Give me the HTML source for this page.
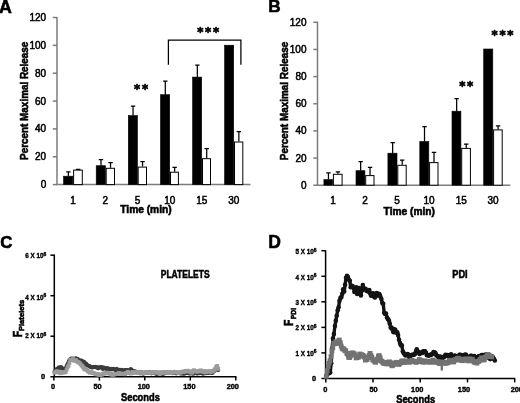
<!DOCTYPE html>
<html><head><meta charset="utf-8"><title>Figure</title>
<style>
html,body{margin:0;padding:0;background:#fff;}
body{width:520px;height:403px;overflow:hidden;}
svg{display:block;will-change:transform;filter:blur(0.45px);font-family:"Liberation Sans",sans-serif;}
.b{font-weight:bold;stroke:#000;stroke-width:0.55;}
.ax{stroke:#7c7c7c;stroke-width:1.5;fill:none;}
.axk{stroke:#000;stroke-width:1.5;fill:none;}
.bk{fill:#000;stroke:#000;stroke-width:0.6;}
.wh{fill:#fff;stroke:#000;stroke-width:1;}
.eb{stroke:#000;stroke-width:1.25;fill:none;}
.tl{font-size:10px;stroke:#000;stroke-width:0.5;}
.ts{font-size:7.4px;font-weight:bold;stroke:#000;stroke-width:0.4;}
</style></head><body>
<svg width="520" height="403" viewBox="0 0 520 403">
<rect width="520" height="403" fill="#fff"/>
<defs>
<marker id="mD" markerWidth="6" markerHeight="6" refX="3" refY="3" markerUnits="userSpaceOnUse"><circle cx="3" cy="3" r="2.3" fill="#141414"/></marker>
<marker id="mG" markerWidth="6" markerHeight="6" refX="3" refY="3" markerUnits="userSpaceOnUse"><rect x="0.6" y="0.6" width="4.8" height="4.8" fill="#727272"/></marker>
<marker id="mCd" markerWidth="6" markerHeight="6" refX="3" refY="3" markerUnits="userSpaceOnUse"><circle cx="3" cy="3" r="2.1" fill="#3c3c3c"/></marker>
<marker id="mCl" markerWidth="6" markerHeight="6" refX="3" refY="3" markerUnits="userSpaceOnUse"><rect x="1.1" y="1.1" width="3.8" height="3.8" fill="#9b9b9b"/></marker>
</defs>

<text x="-1.0" y="12.5" class="b" text-anchor="start" font-size="17.8">A</text>
<text x="268.3" y="12.3" class="b" text-anchor="start" font-size="17.2">B</text>
<text x="0.2" y="247.5" class="b" text-anchor="start" font-size="16.8">C</text>
<text x="268.3" y="247.5" class="b" text-anchor="start" font-size="17.5">D</text>
<path class="ax" d="M57 16.99999999999997V184.6H250.5"/>
<path class="ax" d="M52.8 184.60H57"/>
<text x="46.2" y="188.10" class="tl" text-anchor="end" >0</text>
<path class="ax" d="M52.8 156.75H57"/>
<text x="46.2" y="160.25" class="tl" text-anchor="end" >20</text>
<path class="ax" d="M52.8 128.90H57"/>
<text x="46.2" y="132.40" class="tl" text-anchor="end" >40</text>
<path class="ax" d="M52.8 101.05H57"/>
<text x="46.2" y="104.55" class="tl" text-anchor="end" >60</text>
<path class="ax" d="M52.8 73.20H57"/>
<text x="46.2" y="76.70" class="tl" text-anchor="end" >80</text>
<path class="ax" d="M52.8 45.35H57"/>
<text x="46.2" y="48.85" class="tl" text-anchor="end" >100</text>
<path class="ax" d="M52.8 17.50H57"/>
<text x="46.2" y="21.00" class="tl" text-anchor="end" >120</text>
<rect class="bk" x="63.60" y="176.20" width="9.20" height="8.40"/>
<rect class="wh" x="73.60" y="170.10" width="8.70" height="14.50"/>
<path class="eb" d="M68.40 176.20V171.90M66.20 171.90H70.60"/>
<path class="eb" d="M78.15 169.60V169.30M75.95 169.30H80.35"/>
<rect class="bk" x="96.20" y="165.70" width="9.20" height="18.90"/>
<rect class="wh" x="106.20" y="168.30" width="8.30" height="16.30"/>
<path class="eb" d="M101.00 165.70V159.60M98.80 159.60H103.20"/>
<path class="eb" d="M110.55 167.80V162.60M108.35 162.60H112.75"/>
<rect class="bk" x="128.30" y="115.60" width="9.10" height="69.00"/>
<rect class="wh" x="138.20" y="167.10" width="8.30" height="17.50"/>
<path class="eb" d="M133.05 115.60V106.00M130.85 106.00H135.25"/>
<path class="eb" d="M142.55 166.60V161.70M140.35 161.70H144.75"/>
<rect class="bk" x="160.50" y="94.70" width="9.20" height="89.90"/>
<rect class="wh" x="170.50" y="172.20" width="7.90" height="12.40"/>
<path class="eb" d="M165.30 94.70V81.20M163.10 81.20H167.50"/>
<path class="eb" d="M174.65 171.70V167.40M172.45 167.40H176.85"/>
<rect class="bk" x="192.60" y="77.10" width="9.10" height="107.50"/>
<rect class="wh" x="202.50" y="158.70" width="8.00" height="25.90"/>
<path class="eb" d="M197.35 77.10V65.10M195.15 65.10H199.55"/>
<path class="eb" d="M206.70 158.20V148.50M204.50 148.50H208.90"/>
<rect class="bk" x="224.60" y="45.20" width="9.10" height="139.40"/>
<rect class="wh" x="234.50" y="142.00" width="8.30" height="42.60"/>
<path class="eb" d="M238.85 141.50V131.60M236.65 131.60H241.05"/>
<text x="73" y="204.0" class="tl" text-anchor="middle" >1</text>
<text x="105.3" y="204.0" class="tl" text-anchor="middle" >2</text>
<text x="137.6" y="204.0" class="tl" text-anchor="middle" >5</text>
<text x="169.8" y="204.0" class="tl" text-anchor="middle" >10</text>
<text x="201.8" y="204.0" class="tl" text-anchor="middle" >15</text>
<text x="233.8" y="204.0" class="tl" text-anchor="middle" >30</text>
<text x="120.3" y="213.2" class="b" text-anchor="start" font-size="10" textLength="51.3" lengthAdjust="spacingAndGlyphs">Time (min)</text>
<text class="b" font-size="10" text-anchor="middle" transform="translate(27.6 100.8) rotate(-90)" textLength="118.3" lengthAdjust="spacingAndGlyphs">Percent Maximal Release</text>
<path class="eb" d="M168.4 64.7V40H240.9V64.7"/>
<text x="137.05" y="93.40" text-anchor="middle" font-family="DejaVu Sans,sans-serif" font-weight="bold" font-size="11.8" stroke="#000" stroke-width="0.7" stroke-linejoin="round">*</text>
<text x="145.1" y="93.40" text-anchor="middle" font-family="DejaVu Sans,sans-serif" font-weight="bold" font-size="11.8" stroke="#000" stroke-width="0.7" stroke-linejoin="round">*</text>
<text x="200.3" y="35.50" text-anchor="middle" font-family="DejaVu Sans,sans-serif" font-weight="bold" font-size="11.8" stroke="#000" stroke-width="0.7" stroke-linejoin="round">*</text>
<text x="208.2" y="35.50" text-anchor="middle" font-family="DejaVu Sans,sans-serif" font-weight="bold" font-size="11.8" stroke="#000" stroke-width="0.7" stroke-linejoin="round">*</text>
<text x="216.0" y="35.50" text-anchor="middle" font-family="DejaVu Sans,sans-serif" font-weight="bold" font-size="11.8" stroke="#000" stroke-width="0.7" stroke-linejoin="round">*</text>
<path class="ax" d="M317.5 21.80000000000001V185.2H510.3"/>
<path class="ax" d="M313.3 185.20H317.5"/>
<text x="306.5" y="188.70" class="tl" text-anchor="end" >0</text>
<path class="ax" d="M313.3 158.05H317.5"/>
<text x="306.5" y="161.55" class="tl" text-anchor="end" >20</text>
<path class="ax" d="M313.3 130.90H317.5"/>
<text x="306.5" y="134.40" class="tl" text-anchor="end" >40</text>
<path class="ax" d="M313.3 103.75H317.5"/>
<text x="306.5" y="107.25" class="tl" text-anchor="end" >60</text>
<path class="ax" d="M313.3 76.60H317.5"/>
<text x="306.5" y="80.10" class="tl" text-anchor="end" >80</text>
<path class="ax" d="M313.3 49.45H317.5"/>
<text x="306.5" y="52.95" class="tl" text-anchor="end" >100</text>
<path class="ax" d="M313.3 22.30H317.5"/>
<text x="306.5" y="25.80" class="tl" text-anchor="end" >120</text>
<rect class="bk" x="323.90" y="179.60" width="8.70" height="5.60"/>
<rect class="wh" x="333.40" y="174.30" width="8.70" height="10.90"/>
<path class="eb" d="M328.45 179.60V172.80M326.25 172.80H330.65"/>
<path class="eb" d="M337.95 173.80V171.80M335.75 171.80H340.15"/>
<rect class="bk" x="356.00" y="170.70" width="8.90" height="14.50"/>
<rect class="wh" x="365.70" y="175.60" width="8.30" height="9.60"/>
<path class="eb" d="M360.65 170.70V161.60M358.45 161.60H362.85"/>
<path class="eb" d="M370.05 175.10V167.40M367.85 167.40H372.25"/>
<rect class="bk" x="387.90" y="153.20" width="9.10" height="32.00"/>
<rect class="wh" x="397.80" y="165.30" width="8.40" height="19.90"/>
<path class="eb" d="M392.65 153.20V142.50M390.45 142.50H394.85"/>
<path class="eb" d="M402.20 164.80V160.00M400.00 160.00H404.40"/>
<rect class="bk" x="419.80" y="141.50" width="9.00" height="43.70"/>
<rect class="wh" x="429.60" y="162.60" width="8.40" height="22.60"/>
<path class="eb" d="M424.50 141.50V126.70M422.30 126.70H426.70"/>
<path class="eb" d="M434.00 162.10V152.40M431.80 152.40H436.20"/>
<rect class="bk" x="452.00" y="111.20" width="8.90" height="74.00"/>
<rect class="wh" x="461.70" y="148.40" width="8.70" height="36.80"/>
<path class="eb" d="M456.65 111.20V98.50M454.45 98.50H458.85"/>
<path class="eb" d="M466.25 147.90V144.20M464.05 144.20H468.45"/>
<rect class="bk" x="483.70" y="49.00" width="9.10" height="136.20"/>
<rect class="wh" x="493.60" y="129.90" width="8.60" height="55.30"/>
<path class="eb" d="M498.10 129.40V125.80M495.90 125.80H500.30"/>
<text x="333" y="204.3" class="tl" text-anchor="middle" >1</text>
<text x="365" y="204.3" class="tl" text-anchor="middle" >2</text>
<text x="397" y="204.3" class="tl" text-anchor="middle" >5</text>
<text x="429" y="204.3" class="tl" text-anchor="middle" >10</text>
<text x="461.2" y="204.3" class="tl" text-anchor="middle" >15</text>
<text x="493" y="204.3" class="tl" text-anchor="middle" >30</text>
<text x="383.6" y="215.1" class="b" text-anchor="start" font-size="10" textLength="51.3" lengthAdjust="spacingAndGlyphs">Time (min)</text>
<text class="b" font-size="10" text-anchor="middle" transform="translate(288.3 101.0) rotate(-90)" textLength="118.3" lengthAdjust="spacingAndGlyphs">Percent Maximal Release</text>
<text x="462.3" y="90.00" text-anchor="middle" font-family="DejaVu Sans,sans-serif" font-weight="bold" font-size="11.8" stroke="#000" stroke-width="0.7" stroke-linejoin="round">*</text>
<text x="470.2" y="90.00" text-anchor="middle" font-family="DejaVu Sans,sans-serif" font-weight="bold" font-size="11.8" stroke="#000" stroke-width="0.7" stroke-linejoin="round">*</text>
<text x="494.6" y="39.10" text-anchor="middle" font-family="DejaVu Sans,sans-serif" font-weight="bold" font-size="11.8" stroke="#000" stroke-width="0.7" stroke-linejoin="round">*</text>
<text x="502.5" y="39.10" text-anchor="middle" font-family="DejaVu Sans,sans-serif" font-weight="bold" font-size="11.8" stroke="#000" stroke-width="0.7" stroke-linejoin="round">*</text>
<text x="510.4" y="39.10" text-anchor="middle" font-family="DejaVu Sans,sans-serif" font-weight="bold" font-size="11.8" stroke="#000" stroke-width="0.7" stroke-linejoin="round">*</text>
<path class="axk" d="M54.3 254.4V376.8H236.4"/>
<path class="axk" d="M50.4 376.8H54.3"/>
<text x="45.2" y="379.4" class="ts" text-anchor="end" >0</text>
<path class="axk" d="M50.4 336.2H54.3"/>
<text x="43.50" y="338.1" class="ts" text-anchor="end" textLength="18.2" lengthAdjust="spacingAndGlyphs">2 X 10</text>
<text x="43.40" y="335.50" class="ts" style="font-size:4.9px">6</text>
<path class="axk" d="M50.4 295.7H54.3"/>
<text x="43.50" y="299.7" class="ts" text-anchor="end" textLength="18.2" lengthAdjust="spacingAndGlyphs">4 X 10</text>
<text x="43.40" y="297.10" class="ts" style="font-size:4.9px">6</text>
<path class="axk" d="M50.4 255.2H54.3"/>
<text x="43.50" y="258.1" class="ts" text-anchor="end" textLength="18.2" lengthAdjust="spacingAndGlyphs">6 X 10</text>
<text x="43.40" y="255.50" class="ts" style="font-size:4.9px">6</text>
<path class="axk" d="M53.9 376.8V380.6"/>
<text x="53" y="388.7" class="ts" text-anchor="middle" >0</text>
<path class="axk" d="M99.4 376.8V380.6"/>
<text x="97.5" y="388.7" class="ts" text-anchor="middle" >50</text>
<path class="axk" d="M144.8 376.8V380.6"/>
<text x="143.8" y="388.7" class="ts" text-anchor="middle" >100</text>
<path class="axk" d="M190.3 376.8V380.6"/>
<text x="189.4" y="388.7" class="ts" text-anchor="middle" >150</text>
<path class="axk" d="M235.8 376.8V380.6"/>
<text x="232.8" y="388.7" class="ts" text-anchor="middle" >200</text>
<text x="121.0" y="401.1" class="b" text-anchor="start" font-size="11.2" textLength="38.9" lengthAdjust="spacingAndGlyphs">Seconds</text>
<text x="160.8" y="277.9" class="b" text-anchor="start" font-size="10.6" textLength="48.8" lengthAdjust="spacingAndGlyphs">PLATELETS</text>
<text class="b" font-size="12.8" transform="translate(21.5 337.3) rotate(-90)" textLength="6.4" lengthAdjust="spacingAndGlyphs">F</text>
<text class="b" font-size="7.8" transform="translate(24.4 331.1) rotate(-90)" textLength="31.4" lengthAdjust="spacingAndGlyphs">Platelets</text>
<path d="M54.5 371.9L55.4 371.3L56.4 369.3L57.3 369.0L58.2 368.1L59.1 367.4L60.1 367.9L61.0 367.2L61.9 367.9L62.9 369.1L63.8 370.4L64.7 369.0L65.7 368.3L66.6 366.2L67.5 364.3L68.5 362.3L69.4 360.2L70.3 359.3L71.2 358.6L72.2 358.9L73.1 358.7L74.0 358.8L75.0 359.1L75.9 358.4L76.8 358.8L77.8 359.2L78.7 360.3L79.6 360.3L80.5 360.9L81.5 360.6L82.4 361.6L83.3 361.5L84.3 362.2L85.2 364.3L86.1 363.7L87.1 365.2L88.0 365.7L88.9 365.8L89.8 366.4L90.8 366.9L91.7 367.5L92.6 367.3L93.6 367.1L94.5 367.1L95.4 366.9L96.4 367.4L97.3 367.3L98.2 368.3L99.1 367.3L100.1 367.4L101.0 367.5L101.9 367.0L102.9 368.9L103.8 367.6L104.7 368.1L105.7 368.3L106.6 369.5L107.5 368.2L108.4 369.3L109.4 368.8L110.3 369.0L111.2 368.8L112.2 369.5L113.1 368.9L114.0 369.2L115.0 369.6L115.9 370.6L116.8 368.9L117.7 370.2L118.7 370.5L119.6 369.9L120.5 370.1L121.5 369.9L122.4 370.8L123.3 370.6L124.3 370.3L125.2 370.2L126.1 370.2L127.0 370.3L128.0 370.1L128.9 371.5L129.8 370.3L130.8 369.0L131.7 370.2L132.6 370.8L133.6 371.4L134.5 371.4L135.4 371.6L136.3 371.9L137.3 372.5L138.2 372.1L139.1 372.1L140.1 373.3L141.0 373.1L141.9 372.4L142.9 373.6L143.8 373.5L144.7 372.8L145.6 372.3L146.6 372.8L147.5 372.5L148.4 372.3L149.4 372.1L150.3 372.4L151.2 373.3L152.2 373.0L153.1 372.4L154.0 373.1L154.9 373.2L155.9 373.5L156.8 373.9L157.7 373.4L158.7 373.2L159.6 373.2L160.5 372.6L161.5 373.3L162.4 373.9L163.3 373.6L164.2 373.3L165.2 373.1L166.1 372.8L167.0 372.7L168.0 372.8L168.9 372.6L169.8 372.8L170.8 372.3L171.7 373.0L172.6 373.2L173.5 372.7L174.5 371.9L175.4 372.7L176.3 373.5L177.3 373.0L178.2 373.0L179.1 372.9L180.1 373.4L181.0 372.9L181.9 373.6L182.8 373.3L183.8 373.7L184.7 373.5L185.6 373.2L186.6 372.5L187.5 372.6L188.4 372.8L189.4 373.4L190.3 373.4L191.2 373.0L192.1 373.3L193.1 373.7L194.0 373.3L194.9 373.0L195.9 372.9L196.8 373.4L197.7 373.5L198.7 372.9L199.6 373.2L200.5 372.9L201.4 372.7L202.4 373.5L203.3 373.7L204.2 373.0L205.2 373.1L206.1 373.2L207.0 372.7L208.0 372.7L208.9 373.0L209.8 371.9L210.7 372.4L211.7 372.8L212.6 372.8L213.5 371.4L214.5 370.9L215.4 369.7L216.3 368.5L217.3 368.5L218.2 370.1" fill="none" stroke="#3c3c3c" stroke-width="2.6" stroke-linejoin="round" stroke-linecap="round" marker-start="url(#mCd)" marker-mid="url(#mCd)" marker-end="url(#mCd)"/>
<path d="M54.5 372.7L55.4 372.4L56.4 371.5L57.3 371.4L58.2 372.1L59.1 372.4L60.1 373.3L61.0 372.7L61.9 372.7L62.9 372.4L63.8 372.2L64.7 372.4L65.7 372.0L66.6 369.7L67.5 367.3L68.5 365.8L69.4 363.1L70.3 359.9L71.2 360.0L72.2 359.5L73.1 359.1L74.0 360.6L75.0 360.7L75.9 360.0L76.8 361.3L77.8 362.0L78.7 362.4L79.6 363.1L80.5 364.1L81.5 365.3L82.4 366.2L83.3 367.4L84.3 369.3L85.2 369.2L86.1 369.4L87.1 370.2L88.0 371.4L88.9 371.6L89.8 372.7L90.8 372.2L91.7 372.2L92.6 372.9L93.6 373.0L94.5 373.4L95.4 374.0L96.4 374.4L97.3 374.3L98.2 374.2L99.1 374.9L100.1 374.8L101.0 374.5L101.9 374.7L102.9 373.7L103.8 373.5L104.7 373.5L105.7 373.0L106.6 372.6L107.5 373.2L108.4 373.3L109.4 373.4L110.3 373.5L111.2 374.7L112.2 374.3L113.1 374.7L114.0 374.5L115.0 374.1L115.9 374.2L116.8 374.1L117.7 373.9L118.7 373.1L119.6 373.3L120.5 373.7L121.5 373.7L122.4 373.9L123.3 374.1L124.3 373.7L125.2 374.2L126.1 372.9L127.0 372.8L128.0 371.8L128.9 372.8L129.8 372.9L130.8 373.6L131.7 373.0L132.6 372.0L133.6 373.0L134.5 372.3L135.4 372.0L136.3 372.3L137.3 372.8L138.2 372.5L139.1 372.6L140.1 371.8L141.0 373.0L141.9 372.7L142.9 372.6L143.8 372.8L144.7 372.7L145.6 372.6L146.6 372.1L147.5 372.2L148.4 372.5L149.4 372.8L150.3 372.5L151.2 372.4L152.2 372.5L153.1 372.6L154.0 372.5L154.9 372.2L155.9 372.0L156.8 372.6L157.7 372.5L158.7 372.4L159.6 373.8L160.5 373.3L161.5 373.1L162.4 372.6L163.3 371.9L164.2 372.5L165.2 372.3L166.1 372.2L167.0 372.6L168.0 372.8L168.9 372.5L169.8 372.3L170.8 373.1L171.7 372.8L172.6 371.9L173.5 372.3L174.5 372.2L175.4 372.1L176.3 372.4L177.3 372.3L178.2 373.0L179.1 372.5L180.1 372.3L181.0 372.5L181.9 371.7L182.8 372.0L183.8 371.5L184.7 371.8L185.6 370.9L186.6 371.2L187.5 370.7L188.4 371.1L189.4 371.6L190.3 372.0L191.2 372.5L192.1 372.5L193.1 370.9L194.0 370.2L194.9 371.3L195.9 371.5L196.8 371.0L197.7 371.7L198.7 371.2L199.6 370.9L200.5 370.5L201.4 370.6L202.4 371.7L203.3 371.4L204.2 371.2L205.2 372.4L206.1 371.6L207.0 371.5L208.0 371.5L208.9 371.6L209.8 371.3L210.7 371.9L211.7 371.3L212.6 371.4L213.5 370.9L214.5 369.7L215.4 368.6L216.3 366.6L217.3 366.1L218.2 368.9" fill="none" stroke="#9b9b9b" stroke-width="2.6" stroke-linejoin="round" stroke-linecap="round" marker-start="url(#mCl)" marker-mid="url(#mCl)" marker-end="url(#mCl)"/>
<path class="axk" d="M325.6 250.2V378.5H515.2"/>
<path class="axk" d="M321.4 378.5H325.6"/>
<text x="316" y="380.9" class="ts" text-anchor="end" >0</text>
<path class="axk" d="M321.4 352.9H325.6"/>
<text x="313.80" y="355.5" class="ts" text-anchor="end" textLength="18.2" lengthAdjust="spacingAndGlyphs">1 X 10</text>
<text x="313.70" y="352.90" class="ts" style="font-size:4.9px">6</text>
<path class="axk" d="M321.4 327.4H325.6"/>
<text x="313.80" y="330.3" class="ts" text-anchor="end" textLength="18.2" lengthAdjust="spacingAndGlyphs">2 X 10</text>
<text x="313.70" y="327.70" class="ts" style="font-size:4.9px">6</text>
<path class="axk" d="M321.4 301.8H325.6"/>
<text x="313.80" y="305.2" class="ts" text-anchor="end" textLength="18.2" lengthAdjust="spacingAndGlyphs">3 X 10</text>
<text x="313.70" y="302.60" class="ts" style="font-size:4.9px">6</text>
<path class="axk" d="M321.4 276.3H325.6"/>
<text x="313.80" y="280.0" class="ts" text-anchor="end" textLength="18.2" lengthAdjust="spacingAndGlyphs">4 X 10</text>
<text x="313.70" y="277.40" class="ts" style="font-size:4.9px">6</text>
<path class="axk" d="M321.4 250.7H325.6"/>
<text x="313.80" y="254.2" class="ts" text-anchor="end" textLength="18.2" lengthAdjust="spacingAndGlyphs">5 X 10</text>
<text x="313.70" y="251.60" class="ts" style="font-size:4.9px">6</text>
<path class="axk" d="M325.8 378.5V382.4"/>
<text x="325.3" y="391.7" class="ts" text-anchor="middle" >0</text>
<path class="axk" d="M373.0 378.5V382.4"/>
<text x="373.6" y="391.7" class="ts" text-anchor="middle" >50</text>
<path class="axk" d="M420.2 378.5V382.4"/>
<text x="417.2" y="391.7" class="ts" text-anchor="middle" >100</text>
<path class="axk" d="M467.5 378.5V382.4"/>
<text x="464.0" y="391.7" class="ts" text-anchor="middle" >150</text>
<path class="axk" d="M514.7 378.5V382.4"/>
<text x="516.8" y="391.7" class="ts" text-anchor="middle" >200</text>
<text x="396.2" y="403.2" class="b" text-anchor="start" font-size="11.2" textLength="38.9" lengthAdjust="spacingAndGlyphs">Seconds</text>
<text x="452.3" y="278.0" class="b" text-anchor="start" font-size="10.6" textLength="15.4" lengthAdjust="spacingAndGlyphs">PDI</text>
<text class="b" font-size="12.8" transform="translate(292.8 326.1) rotate(-90)" textLength="6.4" lengthAdjust="spacingAndGlyphs">F</text>
<text class="b" font-size="7.8" transform="translate(295.9 319.3) rotate(-90)" textLength="11.4" lengthAdjust="spacingAndGlyphs">PDI</text>
<path d="M326.5 375.4L327.4 373.9L328.4 373.6L329.3 372.7L330.2 372.4L331.2 363.2L332.1 348.5L333.0 338.6L333.9 334.1L334.9 326.0L335.8 320.7L336.7 315.7L337.7 310.3L338.6 307.2L339.5 300.7L340.5 297.9L341.4 297.1L342.3 293.7L343.2 289.3L344.2 291.5L345.1 284.8L346.0 277.8L347.0 275.9L347.9 277.1L348.8 279.5L349.8 280.7L350.7 287.2L351.6 285.9L352.5 286.1L353.5 287.8L354.4 292.0L355.3 289.2L356.3 287.4L357.2 294.0L358.1 288.0L359.1 288.0L360.0 290.5L360.9 295.4L361.8 290.5L362.8 285.0L363.7 289.5L364.6 288.8L365.6 288.8L366.5 290.7L367.4 291.1L368.4 291.4L369.3 290.0L370.2 293.5L371.1 295.7L372.1 293.7L373.0 293.2L373.9 296.4L374.9 297.5L375.8 293.8L376.7 293.0L377.7 295.5L378.6 293.9L379.5 294.3L380.4 296.7L381.4 299.1L382.3 303.1L383.2 303.7L384.2 312.8L385.1 314.0L386.0 313.5L387.0 317.5L387.9 319.1L388.8 320.3L389.7 323.4L390.7 327.7L391.6 327.5L392.5 329.7L393.5 332.2L394.4 329.4L395.3 329.9L396.3 332.8L397.2 332.2L398.1 335.1L399.0 339.8L400.0 343.0L400.9 345.2L401.8 345.2L402.8 351.5L403.7 353.1L404.6 354.4L405.6 355.5L406.5 354.2L407.4 354.0L408.3 354.5L409.3 357.2L410.2 355.8L411.1 355.5L412.1 354.8L413.0 354.9L413.9 354.7L414.9 354.1L415.8 352.1L416.7 349.2L417.6 351.3L418.6 352.4L419.5 353.9L420.4 353.2L421.4 352.4L422.3 353.0L423.2 351.4L424.2 351.3L425.1 351.4L426.0 352.8L426.9 355.3L427.9 355.2L428.8 355.6L429.7 355.0L430.7 354.9L431.6 354.2L432.5 354.1L433.5 352.1L434.4 352.5L435.3 352.7L436.2 354.9L437.2 355.9L438.1 356.8L439.0 357.8L440.0 356.5L440.9 357.1L441.8 358.3L442.8 357.0L443.7 357.4L444.6 356.5L445.5 354.7L446.5 355.6L447.4 355.1L448.3 355.7L449.3 355.5L450.2 356.2L451.1 354.2L452.1 357.3L453.0 358.0L453.9 356.7L454.8 355.6L455.8 356.0L456.7 356.8L457.6 357.0L458.6 357.1L459.5 354.9L460.4 354.7L461.4 356.9L462.3 356.9L463.2 355.3L464.1 355.2L465.1 354.6L466.0 354.8L466.9 357.0L467.9 356.7L468.8 357.8L469.7 357.5L470.7 355.7L471.6 355.8L472.5 358.6L473.4 357.0L474.4 356.1L475.3 357.8L476.2 357.5L477.2 357.4L478.1 358.6L479.0 356.1L480.0 356.9L480.9 355.8L481.8 355.0L482.7 355.1L483.7 357.0L484.6 356.5L485.5 354.6L486.5 354.5L487.4 357.1L488.3 357.9L489.3 356.4L490.2 359.1L491.1 357.7L492.0 356.6L493.0 357.4L493.9 358.9L494.8 360.5" fill="none" stroke="#141414" stroke-width="3.4" stroke-linejoin="round" stroke-linecap="round" marker-start="url(#mD)" marker-mid="url(#mD)" marker-end="url(#mD)"/>
<path d="M326.3 376.3L327.2 370.7L328.2 366.4L329.1 363.3L330.0 360.9L331.0 356.6L331.9 350.9L332.8 347.8L333.7 343.3L334.7 343.8L335.6 341.8L336.5 343.6L337.5 342.5L338.4 341.1L339.3 340.0L340.3 342.7L341.2 346.1L342.1 348.3L343.0 349.0L344.0 349.0L344.9 350.7L345.8 350.7L346.8 353.3L347.7 354.2L348.6 357.3L349.6 357.5L350.5 355.9L351.4 353.3L352.3 352.9L353.3 353.2L354.2 353.9L355.1 355.0L356.1 357.9L357.0 357.6L357.9 357.0L358.9 357.0L359.8 354.0L360.7 354.9L361.6 354.8L362.6 355.2L363.5 356.0L364.4 357.1L365.4 360.1L366.3 359.5L367.2 359.4L368.2 357.7L369.1 355.3L370.0 353.4L370.9 355.3L371.9 357.3L372.8 360.1L373.7 359.9L374.7 361.5L375.6 362.3L376.5 360.6L377.5 359.0L378.4 356.2L379.3 355.6L380.2 357.7L381.2 360.8L382.1 361.6L383.0 362.8L384.0 363.5L384.9 363.2L385.8 362.3L386.8 364.0L387.7 362.9L388.6 362.3L389.5 361.9L390.5 362.7L391.4 364.8L392.3 365.8L393.3 364.8L394.2 363.9L395.1 363.3L396.1 362.3L397.0 363.2L397.9 363.0L398.8 364.5L399.8 363.5L400.7 362.4L401.6 361.3L402.6 360.8L403.5 362.2L404.4 362.6L405.4 361.6L406.3 360.9L407.2 361.8L408.1 361.7L409.1 362.1L410.0 362.0L410.9 361.3L411.9 360.2L412.8 361.1L413.7 361.4L414.7 361.5L415.6 362.1L416.5 362.2L417.4 361.2L418.4 361.5L419.3 359.5L420.2 360.7L421.2 360.8L422.1 361.7L423.0 362.2L424.0 361.0L424.9 361.1L425.8 362.1L426.7 361.4L427.7 361.6L428.6 361.2L429.5 362.0L430.5 362.2L431.4 361.5L432.3 360.8L433.3 360.0L434.2 362.0L435.1 362.0L436.0 361.9L437.0 362.0L437.9 361.9L438.8 363.0L439.8 363.6L440.7 361.9L441.6 362.7L442.6 362.9L443.5 362.5L444.4 362.5L445.3 363.4L446.3 362.7L447.2 362.9L448.1 362.7L449.1 360.5L450.0 361.8L450.9 361.1L451.9 360.2L452.8 360.7L453.7 362.0L454.6 360.2L455.6 359.4L456.5 359.9L457.4 358.4L458.4 358.2L459.3 359.0L460.2 359.9L461.2 360.1L462.1 360.4L463.0 360.7L463.9 359.6L464.9 359.1L465.8 359.1L466.7 359.2L467.7 360.4L468.6 360.9L469.5 358.9L470.5 360.0L471.4 359.4L472.3 359.2L473.2 361.0L474.2 362.0L475.1 362.3L476.0 362.2L477.0 363.1L477.9 361.2L478.8 361.4L479.8 360.1L480.7 359.3L481.6 357.8L482.5 359.4L483.5 360.1L484.4 359.4L485.3 357.4L486.3 356.7L487.2 355.0L488.1 354.5L489.1 355.4L490.0 356.4L490.9 356.5L491.8 356.9" fill="none" stroke="#727272" stroke-width="3.4" stroke-linejoin="round" stroke-linecap="round" marker-start="url(#mG)" marker-mid="url(#mG)" marker-end="url(#mG)"/>
<rect x="440.6" y="364" width="2.4" height="6.5" fill="#727272"/>
</svg></body></html>
